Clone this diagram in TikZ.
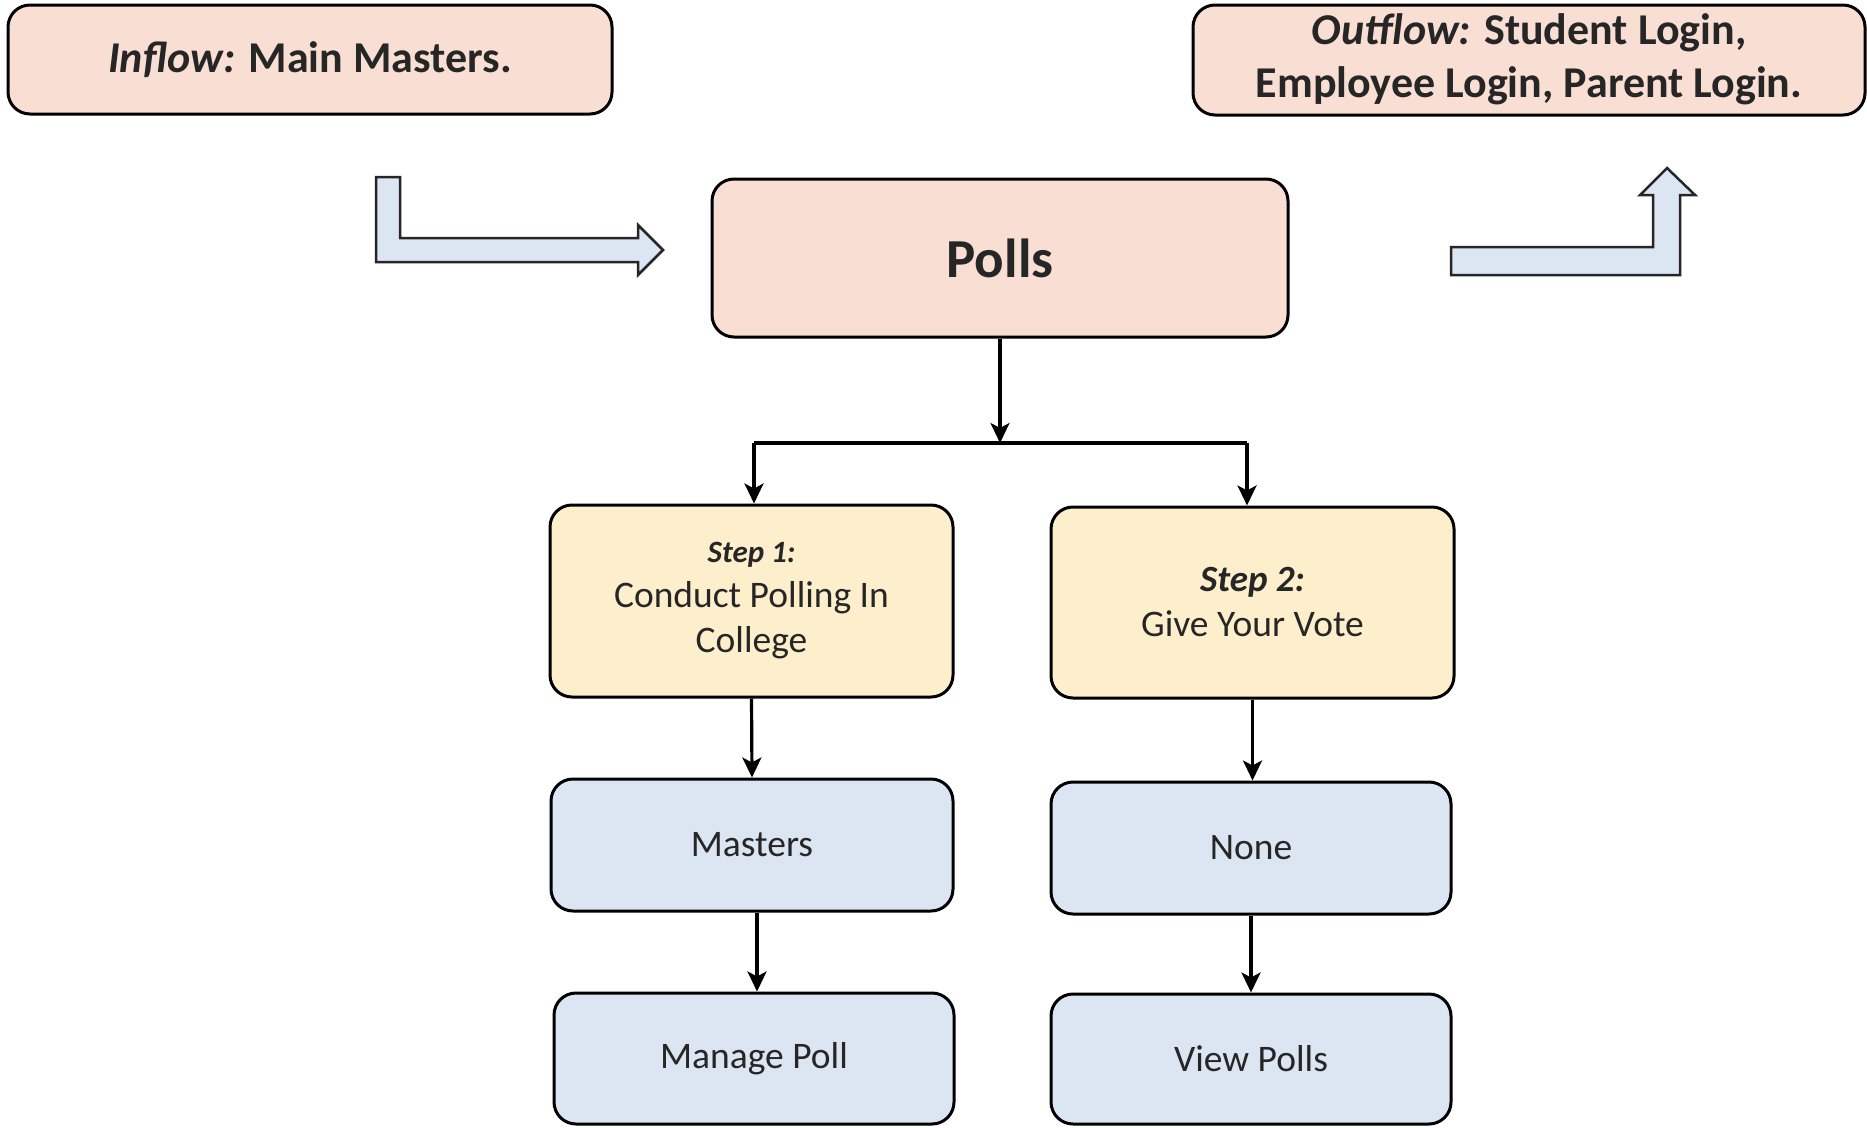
\documentclass[tikz,border=0pt]{standalone}
\usepackage{fontspec}
\setmainfont{Carlito}
\usetikzlibrary{arrows.meta}
\definecolor{peach}{HTML}{F9DFD3}
\definecolor{cream}{HTML}{FDEFCB}
\definecolor{paleblue}{HTML}{DCE6F2}
\definecolor{txt}{HTML}{262626}
\tikzset{
  box/.style={draw=black, line width=3pt, rounded corners=22pt, align=center, text=txt, inner sep=0pt},
  topbox/.style={box, fill=peach},
  stepbox/.style={box, fill=cream},
  leafbox/.style={box, fill=paleblue},
  conn/.style={line width=3.2pt, -{Stealth[length=20pt,width=19pt,inset=5pt]}},
  plainline/.style={line width=3.2pt},
  blockarrow/.style={draw=black!85, line width=2.5pt, fill=paleblue, line join=miter},
}
\begin{document}
\begin{tikzpicture}[x=1pt,y=-1pt]
\useasboundingbox (0,0) rectangle (1867,1127);
\fill[white] (0,0) rectangle (1867,1127);

\node[topbox, minimum width=604pt, minimum height=109pt, font=\fontsize{44}{50}\selectfont\bfseries] (inflow) at (310,59.5) {\raisebox{-3pt}{\textit{Inflow:} Main Masters.}};
\node[topbox, minimum width=672pt, minimum height=110pt, font=\fontsize{44}{54}\selectfont\bfseries] (outflow) at (1529,60) {\raisebox{-4pt}{\begin{tabular}{@{}c@{}}\textit{Outflow:} Student Login,\\[-1pt]Employee Login, Parent Login.\end{tabular}}};
\node[topbox, minimum width=576pt, minimum height=158pt, font=\fontsize{55}{60}\selectfont\bfseries] (polls) at (1000,258) {Polls};

\node[stepbox, minimum width=403pt, minimum height=192pt, font=\fontsize{37.5}{45}\selectfont] (s1) at (751.5,601) {{\fontsize{31}{38}\selectfont\bfseries\itshape Step 1:}\\Conduct Polling In\\College};
\node[stepbox, minimum width=403pt, minimum height=191pt, font=\fontsize{37.5}{45}\selectfont] (s2) at (1252.5,602.5) {{\fontsize{37}{42}\selectfont\bfseries\itshape Step 2:}\\Give Your Vote};

\node[leafbox, minimum width=402pt, minimum height=132pt, font=\fontsize{37.5}{42}\selectfont] (masters) at (752,845) {Masters};
\node[leafbox, minimum width=400pt, minimum height=132pt, font=\fontsize{37.5}{42}\selectfont] (none) at (1251,848) {None};
\node[leafbox, minimum width=400pt, minimum height=131pt, font=\fontsize{37.5}{42}\selectfont] (manage) at (754,1058.5) {Manage Poll};
\node[leafbox, minimum width=400pt, minimum height=130pt, font=\fontsize{37.5}{42}\selectfont] (view) at (1251,1059) {View Polls};

\coordinate (j) at (1000,443);
\coordinate (jl) at (754,443);
\coordinate (jr) at (1247,443);
\draw[conn] (polls.south) -- (j);
\draw[plainline] (jl) -- (jr);
\draw[conn] (jl) -- (jl |- s1.north);
\draw[conn] (jr) -- (jr |- s2.north);
\draw[conn] (s1.south) -- (masters.north);
\draw[conn] ([xshift=5pt]masters.south) -- ([xshift=3pt]manage.north);
\draw[conn] (s2.south) -- (s2.south |- none.north);
\draw[conn] (none.south) -- (view.north);

% block arrows
\draw[blockarrow] (376,177) -- (400,177) -- (400,238) -- (638,238) -- (638,225) -- (663,250) -- (638,275) -- (638,262) -- (376,262) -- cycle;
\draw[blockarrow] (1451,247) -- (1653,247) -- (1653,195) -- (1640,195) -- (1667,168) -- (1695,195) -- (1680,195) -- (1680,275) -- (1451,275) -- cycle;
\end{tikzpicture}
\end{document}
